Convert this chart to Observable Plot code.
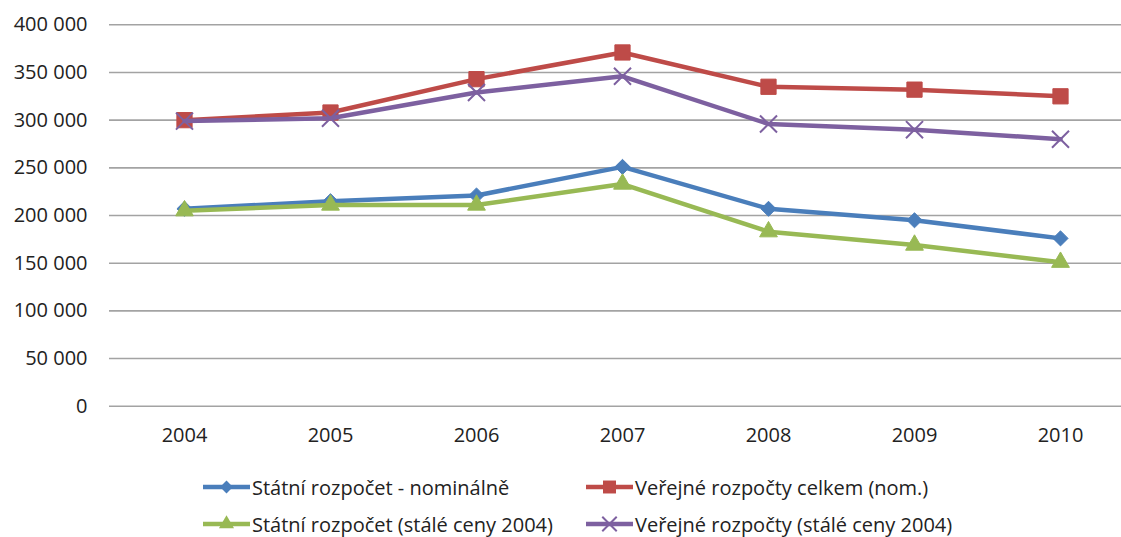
<!DOCTYPE html>
<html>
<head>
<meta charset="utf-8">
<script src="https://cdn.jsdelivr.net/npm/d3@7"></script>
<script src="https://cdn.jsdelivr.net/npm/@observablehq/plot@0.6"></script>
<style>
  html, body { margin: 0; padding: 0; background: #fff; overflow: hidden; }
  #wrap { position: relative; width: 1121px; height: 537px; font-family: "Open Sans", sans-serif; color: #222; }
  .leg { position: absolute; display: flex; align-items: center; font-size: 20px; white-space: nowrap; }
  .leg svg { display: block; margin-right: 2px; }
</style>
</head>
<body>
<div id="wrap"></div>
<script>
const years = [2004, 2005, 2006, 2007, 2008, 2009, 2010];
const seriesNames = [
  "Státní rozpočet - nominálně",
  "Veřejné rozpočty celkem (nom.)",
  "Státní rozpočet (stálé ceny 2004)",
  "Veřejné rozpočty (stálé ceny 2004)"
];
const stateNominal = [207000, 215000, 221000, 251000, 207000, 195000, 176000];
const publicNominal = [300000, 308000, 343000, 371000, 335000, 332000, 325000];
const stateReal = [205000, 211000, 211000, 233000, 183000, 169000, 151000];
const publicReal = [299000, 302000, 329000, 346000, 296000, 290000, 280000];
const yTicks = [0, 50000, 100000, 150000, 200000, 250000, 300000, 350000, 400000];
const colors = ["#4A7EBB", "#BE4B48", "#98B954", "#7D60A0"];
const symbols = ["diamond2", "square", "triangle", "times"];
const radii = [6.8, 8.6, 6.6, 7.8];

const allSeries = [stateNominal, publicNominal, stateReal, publicReal];
const tables = allSeries.map((vals, i) => years.map((y, j) => ({year: y, value: vals[j], name: seriesNames[i]})));

const fmt = d => d3.format(",")(d).replace(/,/g, " ");

const marks = [
  Plot.ruleY(yTicks, {stroke: "#a3a3a3", strokeWidth: 1.6})
];
tables.forEach((t, i) => {
  marks.push(Plot.line(t, {x: "year", y: "value", stroke: colors[i], strokeWidth: 4.5, strokeLinejoin: "round"}));
  const isStroke = symbols[i] === "times";
  marks.push(Plot.dot(t, {
    x: "year", y: "value", symbol: () => symbols[i], r: radii[i],
    fill: isStroke ? "none" : colors[i],
    stroke: colors[i], strokeWidth: isStroke ? 2 : 1
  }));
});
marks.push(Plot.axisY(yTicks, {tickSize: 0, tickPadding: 22, tickFormat: fmt}));
marks.push(Plot.axisX({tickSize: 0, tickPadding: 22, tickFormat: d => `${d}`}));

const chart = Plot.plot({
  width: 1121,
  height: 455,
  marginLeft: 109,
  marginRight: 0,
  marginTop: 24.3,
  marginBottom: 49.3,
  style: {fontFamily: "Open Sans, sans-serif", fontSize: "20px", color: "#222", background: "#fff"},
  x: {type: "point", domain: years, padding: 0.5, range: [109, 1135], label: null},
  y: {domain: [0, 400000], label: null},
  symbol: {type: "identity"},
  marks
});
const wrap = document.getElementById("wrap");
wrap.appendChild(chart);

// legend
const legPos = [[203, 487], [586, 487], [203, 524], [586, 524]];
seriesNames.forEach((name, i) => {
  const div = document.createElement("div");
  div.className = "leg";
  div.style.left = legPos[i][0] + "px";
  div.style.top = (legPos[i][1] - 14) + "px";
  div.style.height = "28px";
  const ns = "http://www.w3.org/2000/svg";
  const svg = document.createElementNS(ns, "svg");
  svg.setAttribute("width", 47); svg.setAttribute("height", 20);
  const line = document.createElementNS(ns, "line");
  line.setAttribute("x1", 0); line.setAttribute("x2", 47);
  line.setAttribute("y1", 10); line.setAttribute("y2", 10);
  line.setAttribute("stroke", colors[i]); line.setAttribute("stroke-width", 4.5);
  svg.appendChild(line);
  const symMap = {diamond2: d3.symbolDiamond2, square: d3.symbolSquare, triangle: d3.symbolTriangle, times: d3.symbolTimes};
  const rr = radii[i] * 0.85;
  const p = document.createElementNS(ns, "path");
  p.setAttribute("d", d3.symbol(symMap[symbols[i]], Math.PI * rr * rr)());
  p.setAttribute("transform", "translate(23.5,10)");
  if (symbols[i] === "times") { p.setAttribute("fill", "none"); p.setAttribute("stroke", colors[i]); p.setAttribute("stroke-width", 2); }
  else { p.setAttribute("fill", colors[i]); }
  svg.appendChild(p);
  div.appendChild(svg);
  const span = document.createElement("span");
  span.textContent = name;
  div.appendChild(span);
  wrap.appendChild(div);
});
</script>
</body>
</html>
